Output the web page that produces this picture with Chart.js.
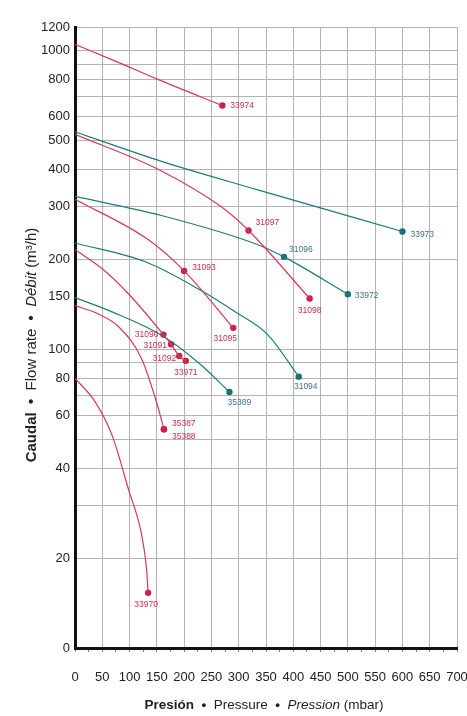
<!DOCTYPE html>
<html>
<head>
<meta charset="utf-8">
<script src="https://cdn.jsdelivr.net/npm/chart.js@4.4.1/dist/chart.umd.min.js"></script>
<style>
  html, body { margin: 0; padding: 0; background: #fff; }
  #wrap { width: 467px; height: 716px; }
</style>
</head>
<body>
<div id="wrap"><canvas id="pumpChart" width="467" height="716"></canvas></div>
<script>
// pressure (mbar) / flow (m3/h)
const curveNames = ['33974', '33973', '31097/31098', '31096/33972', '31093/31095', '31094', '31090-33971', '35389', '35387/35388', '33970']
const curveKinds = ['red', 'teal', 'red', 'teal', 'red', 'teal', 'red', 'teal', 'red', 'red']
const curvePressure = [
  [0, 75, 153, 270],
  [0, 160, 335, 600],
  [0, 153, 268, 318, 430],
  [0, 160, 335, 383, 500],
  [0, 134, 200, 290],
  [0, 130, 232, 292, 353, 410],
  [0, 50, 100, 162, 176, 191, 203],
  [0, 70, 160, 230, 283],
  [0, 40, 80, 122, 150, 163],
  [0, 37, 68, 98, 122, 131, 134],
]
const curveFlow = [
  [1050, 921, 800, 655],
  [535, 425, 342, 248],
  [525, 400, 300, 250, 148],
  [325, 280, 224, 204, 153],
  [318, 233, 183, 118],
  [227, 196, 157, 134, 112, 81],
  [216, 186, 152, 112, 104, 95, 91.5],
  [149, 133, 111, 89, 72],
  [140, 132, 119, 93, 66, 54],
  [80, 66.7, 51.5, 34, 24, 18.5, 15.3],
]

// model points with their reference numbers
const markerNames = ['33974', '33973', '31097', '31096', '33972', '31098', '31093', '31095', '31094', '35389', '31090', '31091', '31092', '33971', '35387', '35388', '33970']
const markerKinds = ['red', 'teal', 'red', 'teal', 'teal', 'red', 'red', 'red', 'teal', 'teal', 'red', 'red', 'red', 'red', 'red', 'red', 'red']
const markerPressure = [270, 600, 318, 383, 500, 430, 200, 290, 410, 283, 162, 176, 191, 203, 163, 163, 134]
const markerFlow = [655, 248, 250, 204, 153, 148, 183, 118, 81, 72, 112, 104, 95, 91.5, 54, 54, 15.3]
// where each number sits around its dot: [dx, dy, align]
const markerPlacement = [
  [8, 0, 'left'], [8, 3, 'left'], [7, -8, 'left'], [5, -7, 'left'], [7, 1, 'left'],
  [0, 12, 'center'], [8, -3, 'left'], [-8, 11, 'center'], [7, 10, 'center'], [10, 11, 'center'],
  [-5, 0, 'right'], [-4, 1.5, 'right'], [-3, 2.7, 'right'], [0, 12, 'center'],
  [8, -6, 'left'], [8, 7, 'left'], [-2, 12, 'center'],
]

const xTickLabels = [0, 50, 100, 150, 200, 250, 300, 350, 400, 450, 500, 550, 600, 650, 700]
const yGridValues = [10, 20, 30, 40, 50, 60, 70, 80, 90, 100, 200, 300, 400, 500, 600, 700, 800, 900, 1000, 1200]
const yLabelValues = [10, 20, 40, 60, 80, 100, 150, 200, 300, 400, 500, 600, 800, 1000, 1200]
const yLabelTexts = ['0', '20', '40', '60', '80', '100', '150', '200', '300', '400', '500', '600', '800', '1000', '1200']

const lineColor = { red: '#d8375b', teal: '#1d7b7b' }
const dotColor = { red: '#cc1f45', teal: '#17706f' }
const textColor = { red: '#d22a50', teal: '#3f7487' }
const gridColor = '#ababab'
const textFont = "'Liberation Sans', Arial, sans-serif"

const curveSets = curveNames.map((name, i) => ({
  label: name,
  data: curvePressure[i].map((p, j) => ({ x: p, y: curveFlow[i][j] })),
  showLine: true,
  borderColor: lineColor[curveKinds[i]],
  borderWidth: 1.2,
  pointRadius: 0,
  cubicInterpolationMode: 'monotone',
  fill: false,
}))

const markerSet = {
  label: 'models',
  data: markerNames.map((n, i) => ({ x: markerPressure[i], y: markerFlow[i] })),
  showLine: false,
  pointRadius: 3.2,
  pointBorderWidth: 0,
  backgroundColor: markerKinds.map(k => dotColor[k]),
}

const markerLabelsPlugin = {
  id: 'markerLabels',
  afterDatasetsDraw(chart) {
    const { ctx } = chart
    const meta = chart.getDatasetMeta(chart.data.datasets.length - 1)
    ctx.save()
    ctx.font = `8.5px ${textFont}`
    ctx.textBaseline = 'middle'
    meta.data.forEach((pt, i) => {
      const [dx, dy, align] = markerPlacement[i]
      ctx.fillStyle = textColor[markerKinds[i]]
      ctx.textAlign = align
      ctx.fillText(markerNames[i], pt.x + dx, pt.y + dy)
    })
    ctx.restore()
  },
}

// axis titles mix bold / regular / italic, so they are drawn by hand
function drawMixed(ctx, parts, size) {
  const fonts = parts.map(p => `${p[1]} ${size}px ${textFont}`)
  let total = 0
  parts.forEach((p, i) => {
    ctx.font = fonts[i]
    total += ctx.measureText(p[0]).width
  })
  let x = -total / 2
  parts.forEach((p, i) => {
    ctx.font = fonts[i]
    ctx.fillText(p[0], x, 0)
    x += ctx.measureText(p[0]).width
  })
}

const axisTitlesPlugin = {
  id: 'axisTitles',
  afterDraw(chart) {
    const { ctx } = chart
    ctx.save()
    ctx.fillStyle = '#222'
    ctx.textBaseline = 'middle'
    ctx.textAlign = 'left'
    ctx.translate(264, 705)
    drawMixed(ctx, [['Presión', 'bold'], ['  •  ', 'bold'], ['Pressure', 'normal'], ['  •  ', 'bold'], ['Pression', 'italic'], [' (mbar)', 'normal']], 13.5)
    ctx.restore()

    ctx.save()
    ctx.fillStyle = '#222'
    ctx.textBaseline = 'middle'
    ctx.textAlign = 'left'
    ctx.translate(32, 345)
    ctx.rotate(-Math.PI / 2)
    drawMixed(ctx, [['Caudal', 'bold'], ['  •  ', 'bold'], ['Flow rate', 'normal'], ['  •  ', 'bold'], ['Débit', 'italic'], [' (m³/h)', 'normal']], 15)
    ctx.restore()
  },
}

new Chart(document.getElementById('pumpChart'), {
  type: 'scatter',
  data: { datasets: [...curveSets, markerSet] },
  options: {
    responsive: false,
    animation: false,
    layout: { padding: { top: 27, right: 10, left: 0, bottom: 0 } },
    plugins: {
      legend: { display: false },
      tooltip: { enabled: false },
      title: { display: false },
    },
    scales: {
      x: {
        type: 'linear',
        min: 0,
        max: 700,
        afterFit: scale => {
          scale.height = 68
          // label padding would otherwise widen the side margins
          scale.paddingLeft = 10
          scale.paddingRight = 10
        },
        ticks: {
          stepSize: 25,
          autoSkip: false,
          maxRotation: 0,
          padding: 18,
          color: '#222',
          font: { family: textFont, size: 13 },
          callback: v => (xTickLabels.includes(v) ? String(v) : ''),
        },
        grid: {
          color: c => (c.tick && c.tick.value % 50 === 0 ? gridColor : 'rgba(0,0,0,0)'),
          lineWidth: 0.9,
          tickColor: '#777',
          tickLength: 4,
        },
        border: { display: true, color: '#111', width: 3 },
      },
      y: {
        type: 'logarithmic',
        min: 10,
        max: 1200,
        afterFit: scale => { scale.width = 75 },
        afterBuildTicks: scale => {
          const vals = [...new Set([...yGridValues, ...yLabelValues])].sort((a, b) => a - b)
          scale.ticks = vals.map(value => ({ value }))
        },
        ticks: {
          autoSkip: false,
          padding: 5,
          color: '#222',
          font: { family: textFont, size: 13 },
          callback: v => {
            const k = yLabelValues.indexOf(v)
            return k >= 0 ? yLabelTexts[k] : ''
          },
        },
        grid: {
          color: c => (c.tick && yGridValues.includes(c.tick.value) ? gridColor : 'rgba(0,0,0,0)'),
          lineWidth: 0.9,
          drawTicks: false,
        },
        border: { display: true, color: '#111', width: 3 },
      },
    },
  },
  plugins: [markerLabelsPlugin, axisTitlesPlugin],
})
</script>
</body>
</html>
